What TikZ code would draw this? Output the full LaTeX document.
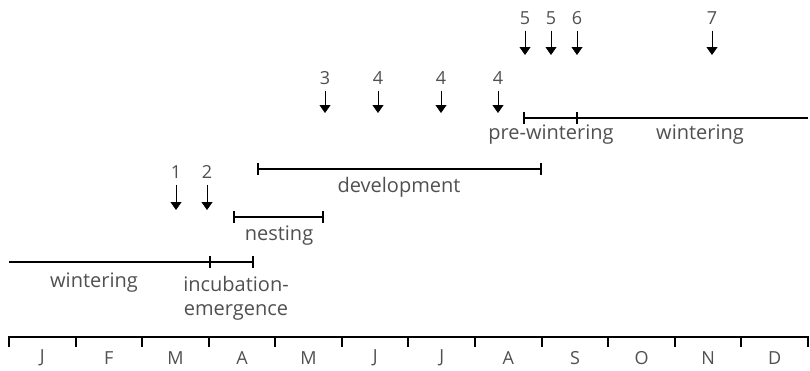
\documentclass[tikz,border=0pt]{standalone}
\usepackage{fontspec}
\setmainfont{Open Sans}
\usetikzlibrary{arrows.meta}
\definecolor{txtgray}{HTML}{505050}
\tikzset{
  lbl/.style={text=txtgray, inner sep=0pt, align=center, font=\fontsize{20}{24}\selectfont},
  num/.style={lbl, font=\fontsize{18}{22}\selectfont},
  bar/.style={line width=2pt},
  phase/.style={line width=2pt, {Bar[width=12pt]}-{Bar[width=12pt]}},
  event/.style={line width=0.8pt, -{Triangle[length=8pt,width=11pt]}},
}
\newcommand{\mw}{66.58}

\begin{document}
\begin{tikzpicture}[x=1pt, y=-1pt]
\useasboundingbox (0,0) rectangle (810,370);

% month axis
\draw[bar] (9,337) -- (808,337);
\foreach \i in {0,...,12}
  \draw[bar] ({9+\mw*\i},336) -- ({9+\mw*\i},347);
\foreach \m [count=\i from 0] in {J,F,M,A,M,J,J,A,S,O,N,D}
  \node[num] (m\i) at ({9+\mw*(\i+0.5)},358) {\m};

% wintering and incubation
\coordinate (w1s) at (9,262);
\coordinate (w1e) at (209,262);
\coordinate (ince) at (254,262);
\draw[bar] (w1s) -- (w1e);
\draw[phase] (w1e) -- (ince);
\node[lbl] (w1) at (94,283) {wintering};
\node[lbl, anchor=north] (inc) at (236,276) {incubation-\\emergence};

% nesting
\coordinate (nests) at (233,217);
\coordinate (neste) at (324,217);
\draw[phase] (nests) -- (neste);
\node[lbl] (nest) at (279,236) {nesting};

% development
\coordinate (devs) at (257,169);
\coordinate (deve) at (542,169);
\draw[phase] (devs) -- (deve);
\node[lbl] (dev) at (399,187) {development};

% pre-wintering and wintering
\coordinate (pws) at (523,118);
\coordinate (pwe) at (578,118);
\coordinate (w2e) at (808,118);
\draw[phase] (pws) -- (pwe);
\draw[bar] (pwe) -- (w2e);
\node[lbl] (pw) at (551,135) {pre-wintering};
\node[lbl] (w2) at (700,135) {wintering};

% events
\foreach \x/\y/\t/\d [count=\k] in {176/172/1/38, 207/172/2/38, 325/78/3/35,
    378/78/4/35, 441/78/4/35, 498/78/4/35, 525/18/5/37, 551/18/5/37,
    577/18/6/37, 712/18/7/37} {
  \node[num] (n\k) at (\x,\y) {\t};
  \coordinate (a\k) at (\x,\y+\d);
  \draw[event] ([yshift=-6pt]n\k.south) -- (a\k);
}

\end{tikzpicture}
\end{document}
